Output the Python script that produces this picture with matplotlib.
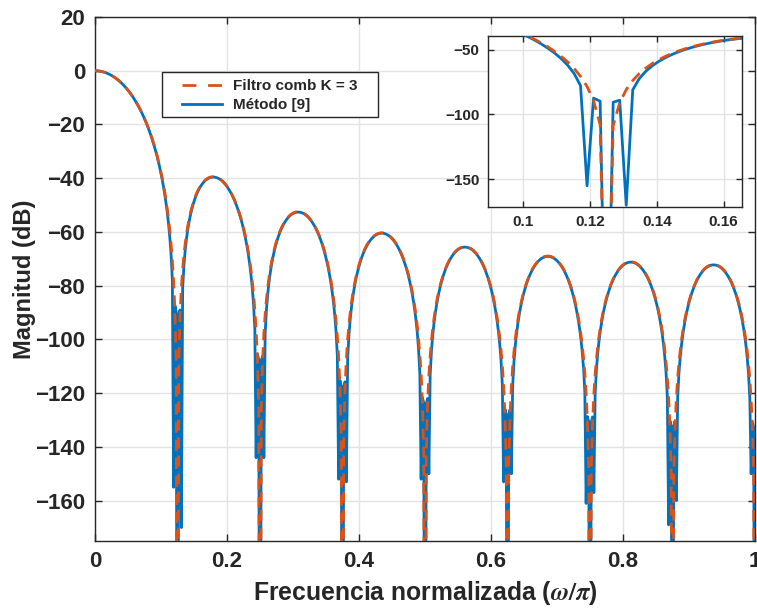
import numpy as np
import matplotlib
matplotlib.use("Agg")
import matplotlib.pyplot as plt
from matplotlib.lines import Line2D
from matplotlib.patches import Rectangle

# ---- data (filter definitions and values) ----
decimation_M = 16          # nulls at multiples of 2/M (0.125, 0.25, ...)
comb_order_K = 3           # Filtro comb K = 3
rotation_alpha = 0.005859375   # split of the extra zeros of "Método [9]" (units of pi)
n_freq = 512               # frequency samples in [0, pi]
# depth of the split dips of "Método [9]" (dB), null k = 1..8 (left), 1..7 (right)
dip_left_db = [-155, -144, -152, -152, -153, -161, -169, -150]
dip_right_db = [-170, -144, -153, -150, -150, -157, -160]

series_labels = ["Filtro comb K = 3", "Método [9]"]
x_ticks = [0, 0.2, 0.4, 0.6, 0.8, 1]
x_ticklabels = ["0", "0.2", "0.4", "0.6", "0.8", "1"]
y_ticks = [20, 0, -20, -40, -60, -80, -100, -120, -140, -160]
inset_x_ticks = [0.1, 0.12, 0.14, 0.16]
inset_x_ticklabels = ["0.1", "0.12", "0.14", "0.16"]
inset_y_ticks = [-50, -100, -150]

# ---- frequency grid ----
w = np.pi * np.arange(n_freq + 1) / n_freq
f = w / np.pi


def response_db(b):
    H = np.exp(-1j * np.outer(w, np.arange(len(b)))) @ b
    with np.errstate(divide="ignore"):
        return 20 * np.log10(np.abs(H))


# ---- comb filter ----
h_box = np.ones(decimation_M)
b_comb = h_box.copy()
for _ in range(comb_order_K - 1):
    b_comb = np.convolve(b_comb, h_box)
b_comb = b_comb / b_comb.sum()
comb_db = response_db(b_comb)

# ---- "Método [9]": comb zeros plus a pair of split zeros around every null ----
n_null = decimation_M // 2
k_all = np.arange(1, n_null + 1)
comb_angles = k_all / n_null                         # units of pi
rot_angles = np.concatenate([k_all / n_null - rotation_alpha,
                             k_all[:-1] / n_null + rotation_alpha])
rot_targets = np.array(dip_left_db + dip_right_db, dtype=float)


def zeros_from(rot_radius):
    z = []
    for a in comb_angles:
        if np.isclose(a, 1.0):
            z.append(-1.0 + 0j)
        else:
            z += [np.exp(1j * np.pi * a), np.exp(-1j * np.pi * a)]
    for a, r in zip(rot_angles, rot_radius):
        z += [r * np.exp(1j * np.pi * a), r * np.exp(-1j * np.pi * a)]
    return np.array(z)


def mag(omega, zeros):
    return np.abs(np.prod(1 - zeros * np.exp(-1j * omega)))


z_unit = zeros_from(np.ones(len(rot_angles)))
dc = mag(0.0, z_unit)
radius = np.ones(len(rot_angles))
n_comb_z = len(z_unit) - 2 * len(rot_angles)
for i, (a, d) in enumerate(zip(rot_angles, rot_targets)):
    idx = n_comb_z + 2 * i
    rest = mag(np.pi * a, np.delete(z_unit, idx)) / dc
    radius[i] = 1 - 10 ** (d / 20) / rest

b_met = np.poly(zeros_from(radius)).real
b_met = b_met / b_met.sum()
met_db = response_db(b_met)

# ---- style ----
plt.rcParams["font.family"] = ["Liberation Sans", "DejaVu Sans"]
plt.rcParams["font.weight"] = "bold"
plt.rcParams["mathtext.fontset"] = "stix"
txt = "#262626"
grid_c = "#e3e3e3"
blue = "#0072BD"
orange = "#D95319"
LW = 2.0
DASH = (4, 2.5)

fig = plt.figure(figsize=(7.57, 6.10), dpi=100)
ax = fig.add_axes([95 / 757, 1 - 541 / 610, 660 / 757, 524 / 610])

ax.plot(f, met_db, color=blue, lw=LW, zorder=3)
ax.plot(f, comb_db, color=orange, lw=LW, dashes=DASH, zorder=4)

ax.set_xlim(0, 1)
ax.set_ylim(-175, 20)
ax.set_xticks(x_ticks)
ax.set_xticklabels(x_ticklabels)
ax.set_yticks(y_ticks)
ax.grid(True, color=grid_c, lw=1.0)
ax.set_axisbelow(True)
ax.tick_params(direction="in", top=True, right=True, length=5, width=1,
               colors=txt, labelsize=16, pad=7)
for s in ax.spines.values():
    s.set_color(txt)
    s.set_linewidth(1.0)
for lab in ax.get_xticklabels() + ax.get_yticklabels():
    lab.set_fontweight("bold")

ax.set_xlabel(r"Frecuencia normalizada ($\omega/\pi$)", fontsize=17.8,
              fontweight="bold", color=txt, labelpad=5)
ax.set_ylabel("Magnitud (dB)", fontsize=17, fontweight="bold", color=txt,
              labelpad=-0.5)

# legend box (MATLAB-like padding)
ax.add_patch(Rectangle(((162 - 95) / 660, (541 - 117) / 524),
                       (378 - 162) / 660, (117 - 72) / 524,
                       transform=ax.transAxes, facecolor="white",
                       edgecolor=txt, lw=1.0, zorder=6))
handles = [Line2D([], [], color=orange, lw=LW, dashes=(5, 4.2)),
           Line2D([], [], color=blue, lw=LW)]
leg = ax.legend(handles, series_labels, loc="upper left",
                bbox_to_anchor=((182 - 95) / 660, (541 - 79) / 524),
                prop={"size": 11, "weight": "bold"}, frameon=False,
                borderaxespad=0, borderpad=0, handlelength=2.62,
                labelspacing=0.32, handletextpad=0.72)
leg.set_zorder(7)
for t in leg.get_texts():
    t.set_color(txt)

# ---- inset ----
ins = fig.add_axes([488 / 757, 1 - 207 / 610, 254 / 757, 171 / 610])
ins.plot(f, met_db, color=blue, lw=LW, zorder=3)
ins.plot(f, comb_db, color=orange, lw=LW, dashes=DASH, zorder=4)
ins.set_xlim(0.0895, 0.1655)
ins.set_ylim(-171.3, -39.5)
ins.set_xticks(inset_x_ticks)
ins.set_xticklabels(inset_x_ticklabels)
ins.set_yticks(inset_y_ticks)
ins.grid(True, color=grid_c, lw=1.0)
ins.set_axisbelow(True)
ins.tick_params(direction="in", top=True, right=True, length=4, width=1,
                colors=txt, labelsize=11, pad=6)
for s in ins.spines.values():
    s.set_color(txt)
    s.set_linewidth(1.0)
for lab in ins.get_xticklabels() + ins.get_yticklabels():
    lab.set_fontweight("bold")

fig.savefig("out.png", dpi=100)
